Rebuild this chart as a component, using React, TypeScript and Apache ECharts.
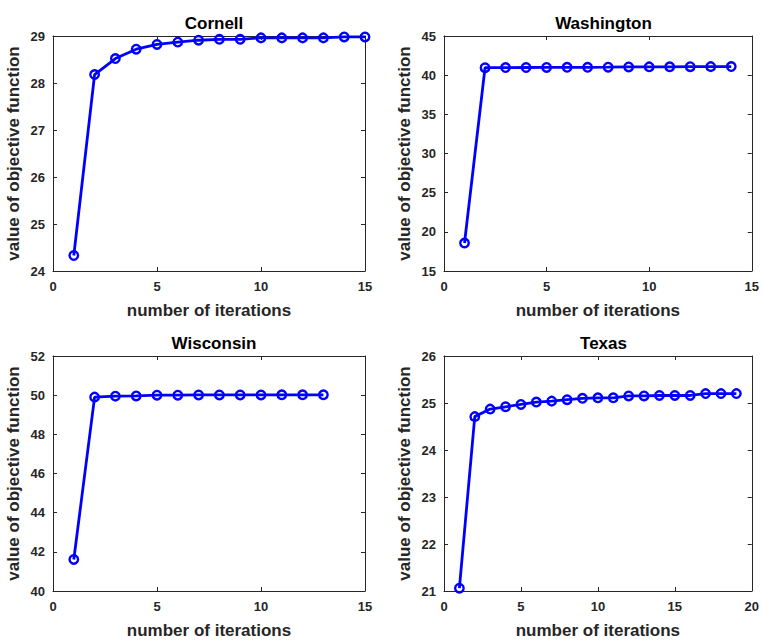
import React, { useEffect, useRef } from "react";
import * as echarts from "echarts";

const titles = ["Cornell", "Washington", "Wisconsin", "Texas"];
const xLabel = "number of iterations";
const yLabel = "value of objective function";

const cornell = [24.33, 28.18, 28.52, 28.72, 28.82, 28.87, 28.91, 28.93, 28.93, 28.96, 28.96, 28.96, 28.96, 28.98, 28.98];
const washington = [18.57, 40.95, 40.97, 40.98, 40.99, 41.0, 41.0, 41.02, 41.05, 41.06, 41.07, 41.08, 41.09, 41.1];
const wisconsin = [41.61, 49.9, 49.95, 49.96, 50.0, 50.0, 50.01, 50.01, 50.01, 50.01, 50.02, 50.02, 50.02];
const texas = [21.06, 24.71, 24.87, 24.92, 24.97, 25.02, 25.04, 25.07, 25.1, 25.11, 25.11, 25.15, 25.15, 25.16, 25.16, 25.16, 25.2, 25.2, 25.2];

const seriesData = [cornell, washington, wisconsin, texas];
const xRanges = [[0, 15, 5], [0, 15, 5], [0, 15, 5], [0, 20, 5]];
const yRanges = [[24, 29, 1], [15, 45, 5], [40, 52, 2], [21, 26, 1]];

const grids = [
  { left: 53, top: 36, width: 312, height: 235 },
  { left: 444, top: 36, width: 309, height: 235 },
  { left: 53, top: 356, width: 312, height: 236 },
  { left: 444, top: 356, width: 309, height: 236 },
];

const FONT = "'Liberation Sans', Arial, Helvetica, sans-serif";
const AX = "#262626";

export default function App() {
  const ref = useRef<HTMLDivElement>(null);
  useEffect(() => {
    document.body.style.margin = "0";
    if (!ref.current) return;
    const chart = echarts.init(ref.current, undefined, { renderer: "svg" });
    const xAxes: any[] = [];
    const yAxes: any[] = [];
    const series: any[] = [];
    const titleArr: any[] = [];
    grids.forEach((g, i) => {
      const [xmin, xmax, xint] = xRanges[i];
      const [ymin, ymax, yint] = yRanges[i];
      const axisLine = { show: true, onZero: false, lineStyle: { color: AX, width: 1 } };
      const axisTick = { show: true, inside: true, length: 4, lineStyle: { color: AX } };
      const axisLabel = { color: AX, fontSize: 13, fontWeight: "bold", fontFamily: FONT };
      xAxes.push({
        type: "value", gridIndex: i, min: xmin, max: xmax, interval: xint, position: "bottom",
        axisLine, axisTick, axisLabel: { ...axisLabel, margin: 9 }, splitLine: { show: false },
        name: xLabel, nameLocation: "middle", nameGap: 31,
        nameTextStyle: { color: AX, fontSize: 17, fontWeight: "bold", fontFamily: FONT },
      });
      xAxes.push({
        type: "value", gridIndex: i, min: xmin, max: xmax, interval: xint, position: "top",
        axisLine, axisTick, axisLabel: { show: false }, splitLine: { show: false },
      });
      yAxes.push({
        type: "value", gridIndex: i, min: ymin, max: ymax, interval: yint, position: "left",
        axisLine, axisTick, axisLabel: { ...axisLabel, margin: 8 }, splitLine: { show: false },
        name: yLabel, nameLocation: "middle", nameGap: 31,
        nameTextStyle: { color: AX, fontSize: 17, fontWeight: "bold", fontFamily: FONT },
      });
      yAxes.push({
        type: "value", gridIndex: i, min: ymin, max: ymax, interval: yint, position: "right",
        axisLine, axisTick, axisLabel: { show: false }, splitLine: { show: false },
      });
      series.push({
        type: "line",
        xAxisIndex: i * 2,
        yAxisIndex: i * 2,
        data: seriesData[i].map((v, k) => [k + 1, v]),
        symbol: "circle",
        symbolSize: 8.5,
        lineStyle: { color: "#0000ff", width: 2.8 },
        itemStyle: { color: "rgba(0,0,0,0)", borderColor: "#0000ff", borderWidth: 2.4 },
      });
      titleArr.push({
        text: titles[i],
        left: g.left + g.width / 2,
        top: 10 + (i >= 2 ? 320 : 0),
        textAlign: "center",
        textStyle: { color: "#000", fontSize: 17, fontWeight: "bold", fontFamily: FONT },
      });
    });
    chart.setOption({
      animation: false,
      backgroundColor: "#fff",
      title: titleArr,
      grid: grids.map((g) => ({ ...g, containLabel: false })),
      xAxis: xAxes,
      yAxis: yAxes,
      series,
    });
    return () => chart.dispose();
  }, []);
  return <div ref={ref} style={{ width: 762, height: 640 }} />;
}
